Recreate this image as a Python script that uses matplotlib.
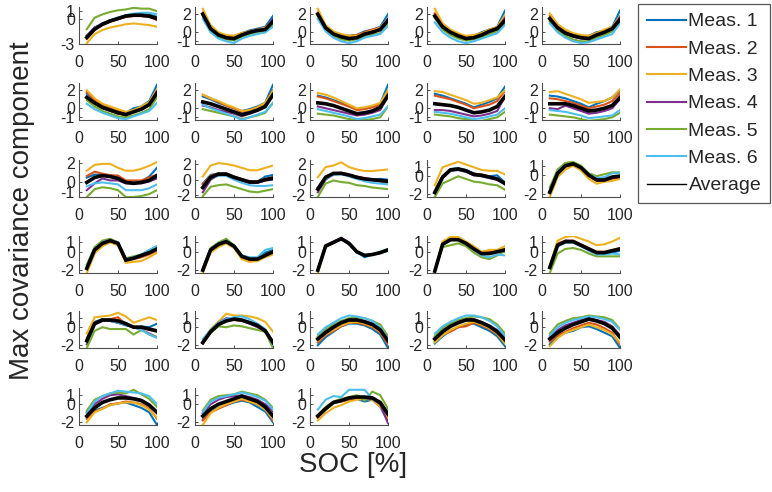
import matplotlib
matplotlib.use("Agg")
import matplotlib.pyplot as plt
from matplotlib.lines import Line2D

plt.rcParams["font.family"] = ["Liberation Sans", "DejaVu Sans"]
plt.rcParams["axes.unicode_minus"] = False

SOC = [10, 20, 30, 40, 50, 60, 70, 80, 90, 100]
SERIES = ["Meas. 1", "Meas. 2", "Meas. 3", "Meas. 4", "Meas. 5", "Meas. 6", "Average"]
COLORS = ["#0072BD", "#D95319", "#EDB120", "#7E2F8E", "#77AC30", "#4DBEEE", "#000000"]

# each panel: Meas.1 .. Meas.6, Average
P01 = [[-2.0, -1.0, -0.5, -0.1, 0.2, 0.5, 0.6, 0.6, 0.6, 0.3],
       [-2.4, -1.3, -0.7, -0.3, 0.0, 0.3, 0.4, 0.4, 0.3, -0.1],
       [-2.9, -1.8, -1.3, -1.0, -0.8, -0.6, -0.5, -0.6, -0.7, -0.9],
       [-2.0, -1.0, -0.6, -0.2, 0.1, 0.4, 0.5, 0.4, 0.3, 0.0],
       [-1.2, 0.2, 0.6, 0.9, 1.1, 1.2, 1.4, 1.3, 1.3, 1.0],
       [-2.1, -1.1, -0.6, -0.2, 0.2, 0.5, 0.7, 0.8, 0.8, 0.6],
       [-2.2, -1.2, -0.6, -0.2, 0.1, 0.4, 0.5, 0.5, 0.4, 0.1]]
P02 = [[2.0, 0.4, -0.2, -0.5, -0.5, -0.1, 0.2, 0.4, 0.6, 1.8],
       [2.2, 0.6, -0.1, -0.4, -0.4, -0.1, 0.1, 0.3, 0.5, 1.2],
       [2.6, 0.8, 0.0, -0.3, -0.4, -0.1, 0.1, 0.3, 0.5, 1.4],
       [1.9, 0.4, -0.3, -0.6, -0.7, -0.3, 0.0, 0.2, 0.3, 1.5],
       [1.8, 0.2, -0.5, -0.8, -0.9, -0.5, -0.2, 0.0, 0.0, 0.9],
       [1.5, 0.0, -0.7, -1.0, -1.2, -0.7, -0.4, -0.2, 0.0, 0.6],
       [2.0, 0.4, -0.3, -0.6, -0.7, -0.3, 0.0, 0.2, 0.3, 1.2]]
P03 = [[2.1, 0.6, -0.1, -0.3, -0.4, -0.3, 0.1, 0.3, 0.6, 2.0],
       [2.2, 0.6, 0.0, -0.3, -0.4, -0.3, 0.0, 0.3, 0.5, 1.4],
       [2.6, 0.8, 0.1, -0.2, -0.4, -0.4, -0.1, 0.2, 0.5, 1.5],
       [1.9, 0.4, -0.3, -0.6, -0.7, -0.6, -0.3, 0.1, 0.3, 1.5],
       [1.8, 0.3, -0.4, -0.8, -0.9, -0.8, -0.5, -0.3, -0.1, 0.8],
       [1.5, 0.1, -0.6, -1.0, -1.2, -1.0, -0.6, -0.4, -0.2, 0.7],
       [2.0, 0.5, -0.2, -0.5, -0.7, -0.6, -0.2, 0.0, 0.3, 1.3]]
P04 = [[1.9, 0.7, 0.1, -0.3, -0.5, -0.4, 0.0, 0.3, 0.6, 2.4],
       [2.1, 0.8, 0.1, -0.3, -0.5, -0.4, -0.1, 0.3, 0.5, 1.6],
       [2.6, 1.0, 0.3, -0.1, -0.4, -0.3, -0.1, 0.3, 0.6, 1.9],
       [1.8, 0.6, -0.1, -0.5, -0.7, -0.6, -0.3, 0.1, 0.4, 1.6],
       [1.6, 0.3, -0.3, -0.7, -0.9, -0.8, -0.5, -0.2, 0.1, 0.9],
       [1.1, 0.0, -0.6, -1.0, -1.2, -1.0, -0.7, -0.4, -0.1, 0.8],
       [1.8, 0.6, 0.0, -0.4, -0.7, -0.6, -0.3, 0.1, 0.4, 1.3]]
P05 = [[1.6, 0.6, 0.1, -0.3, -0.5, -0.4, 0.0, 0.2, 0.6, 2.4],
       [1.8, 0.7, 0.1, -0.2, -0.4, -0.4, -0.1, 0.2, 0.5, 1.7],
       [2.1, 0.9, 0.3, -0.1, -0.3, -0.4, -0.1, 0.3, 0.6, 1.8],
       [1.4, 0.5, -0.1, -0.5, -0.7, -0.7, -0.4, 0.0, 0.4, 1.7],
       [1.2, 0.2, -0.4, -0.8, -1.0, -1.0, -0.6, -0.3, 0.1, 1.1],
       [1.0, 0.0, -0.6, -1.0, -1.2, -1.1, -0.8, -0.5, -0.2, 1.0],
       [1.5, 0.5, -0.1, -0.4, -0.6, -0.7, -0.3, 0.0, 0.4, 1.4]]
P06 = [[1.6, 0.8, 0.3, 0.0, -0.4, -0.5, 0.0, 0.2, 0.8, 2.6],
       [1.8, 0.9, 0.4, 0.0, -0.3, -0.5, -0.2, 0.1, 0.6, 2.0],
       [2.0, 1.1, 0.5, 0.2, -0.1, -0.4, -0.2, 0.2, 0.7, 2.1],
       [1.2, 0.5, 0.0, -0.3, -0.6, -0.7, -0.4, -0.1, 0.4, 1.9],
       [0.9, 0.2, -0.3, -0.6, -0.9, -1.0, -0.8, -0.5, -0.1, 1.2],
       [0.5, -0.1, -0.5, -0.8, -1.1, -1.2, -0.9, -0.6, -0.3, 0.6],
       [1.2, 0.6, 0.1, -0.2, -0.5, -0.7, -0.4, -0.1, 0.4, 1.7]]
P07 = [[1.3, 1.0, 0.6, 0.3, 0.0, -0.3, -0.1, 0.2, 0.6, 2.6],
       [1.5, 1.1, 0.7, 0.3, 0.0, -0.4, -0.2, 0.1, 0.5, 2.0],
       [1.5, 1.1, 0.8, 0.4, 0.1, -0.3, -0.2, 0.1, 0.6, 1.9],
       [0.3, 0.1, -0.2, -0.4, -0.6, -0.9, -0.6, -0.3, 0.1, 1.6],
       [-0.1, -0.3, -0.5, -0.7, -0.9, -1.2, -1.0, -0.8, -0.5, 0.6],
       [0.4, 0.0, -0.3, -0.6, -0.9, -1.3, -1.0, -0.7, -0.4, 0.6],
       [0.7, 0.5, 0.2, -0.1, -0.4, -0.7, -0.5, -0.2, 0.2, 1.5]]
P08 = [[1.4, 1.2, 0.9, 0.6, 0.2, -0.1, 0.0, 0.2, 0.5, 2.6],
       [1.3, 1.1, 0.8, 0.5, 0.2, -0.2, -0.1, 0.1, 0.4, 1.8],
       [1.7, 1.5, 1.2, 0.8, 0.4, 0.0, 0.1, 0.3, 0.6, 2.0],
       [0.2, 0.0, -0.2, -0.4, -0.6, -0.8, -0.7, -0.5, -0.2, 1.3],
       [-0.6, -0.7, -0.8, -1.0, -1.2, -1.3, -1.3, -1.2, -1.0, 0.2],
       [-0.1, -0.3, -0.5, -0.7, -0.9, -1.2, -1.1, -0.9, -0.7, 0.2],
       [0.6, 0.5, 0.3, 0.0, -0.3, -0.6, -0.5, -0.3, 0.1, 1.4]]
P09 = [[1.6, 1.4, 1.1, 0.8, 0.5, 0.1, 0.4, 0.7, 1.1, 2.4],
       [1.4, 1.2, 1.0, 0.7, 0.4, 0.0, 0.2, 0.4, 0.8, 1.9],
       [1.9, 1.8, 1.5, 1.2, 0.9, 0.5, 0.6, 0.9, 1.2, 2.0],
       [-0.2, -0.2, -0.3, -0.5, -0.7, -0.9, -0.8, -0.6, -0.3, 1.3],
       [-0.7, -0.8, -0.9, -1.1, -1.2, -1.4, -1.4, -1.2, -1.0, -0.4],
       [-0.4, -0.5, -0.6, -0.8, -1.0, -1.2, -1.1, -0.9, -0.7, 0.0],
       [0.5, 0.4, 0.3, 0.1, -0.2, -0.5, -0.4, -0.2, 0.2, 1.3]]
P10 = [[1.4, 1.3, 1.1, 0.8, 0.5, 0.1, 0.5, 0.8, 1.2, 2.0],
       [1.1, 1.0, 0.8, 0.6, 0.3, 0.0, 0.2, 0.4, 0.8, 1.7],
       [1.8, 1.9, 1.6, 1.3, 1.0, 0.6, 0.7, 0.8, 1.2, 2.1],
       [0.0, -0.1, 0.3, 0.0, -0.3, -0.6, -0.5, -0.3, 0.0, 1.0],
       [-0.7, -0.8, -0.9, -1.0, -1.2, -1.4, -1.3, -1.2, -1.0, -0.5],
       [-0.2, -0.3, -0.4, -0.6, -0.8, -1.1, -1.0, -0.9, -0.8, -0.2],
       [0.5, 0.5, 0.5, 0.3, 0.0, -0.3, -0.2, 0.0, 0.3, 1.2]]
P11 = [[0.5, 0.8, 0.8, 0.6, 0.5, 0.1, 0.0, 0.1, 0.6, 1.5],
       [0.65, 1.1, 0.9, 0.75, 0.7, 0.2, 0.2, 0.2, 0.5, 0.8],
       [1.2, 1.8, 1.9, 1.9, 1.5, 1.2, 1.2, 1.4, 1.7, 2.1],
       [-0.8, -0.1, 0.4, 0.2, 0.2, -0.1, -0.1, -0.1, 0.1, 0.4],
       [-1.5, -0.7, -0.5, -0.6, -0.8, -1.5, -1.5, -1.4, -1.2, -0.8],
       [-0.4, -0.1, 0.0, -0.1, -0.2, -0.8, -0.8, -0.8, -0.6, -0.2],
       [0.0, 0.5, 0.7, 0.6, 0.4, 0.0, -0.1, 0.0, 0.2, 0.7]]
P12 = [[-0.5, 0.6, 0.8, 0.8, 0.4, 0.0, -0.3, -0.3, 0.4, 0.6],
       [-0.6, 0.5, 0.8, 0.8, 0.4, 0.1, -0.2, -0.2, 0.1, 0.3],
       [0.4, 1.8, 2.1, 2.0, 1.8, 1.5, 1.2, 1.2, 1.5, 1.8],
       [-1.6, 0.0, 0.6, 0.6, 0.2, -0.1, -0.4, -0.4, -0.1, 0.0],
       [-2.1, -0.9, -0.7, -0.6, -0.9, -1.2, -1.5, -1.6, -1.4, -1.2],
       [-1.0, 0.2, 0.5, 0.5, 0.0, -0.4, -0.7, -0.8, -0.8, -0.7],
       [-1.0, 0.3, 0.7, 0.7, 0.3, 0.0, -0.3, -0.3, 0.0, 0.2]]
P13 = [[-1.0, 0.2, 0.8, 0.8, 0.6, 0.3, 0.1, 0.0, 0.1, 0.0],
       [-1.0, 0.4, 0.8, 0.9, 0.6, 0.4, 0.2, 0.0, -0.2, -0.4],
       [0.3, 1.6, 1.8, 2.2, 1.6, 1.3, 1.1, 1.1, 1.2, 1.3],
       [-1.6, 0.0, 0.7, 0.8, 0.5, 0.3, 0.1, -0.1, -0.2, -0.3],
       [-2.2, -0.5, -0.1, -0.3, -0.4, -0.7, -0.8, -1.0, -1.1, -1.2],
       [-1.2, 0.1, 0.6, 0.7, 0.4, 0.1, -0.2, -0.4, -0.5, -0.6],
       [-1.2, 0.3, 0.8, 0.8, 0.6, 0.3, 0.1, 0.0, -0.1, -0.2]]
P14 = [[-1.7, 0.0, 0.8, 0.9, 0.7, 0.3, 0.1, 0.0, 0.1, -0.7],
       [-1.6, 0.0, 0.7, 0.7, 0.5, 0.3, 0.2, 0.0, -0.4, -0.8],
       [-1.0, 1.0, 1.3, 1.6, 1.3, 1.0, 0.7, 0.6, 0.6, 0.2],
       [-1.9, -0.2, 0.6, 0.7, 0.5, 0.1, 0.0, -0.2, -0.4, -0.9],
       [-2.3, -0.8, -0.4, 0.0, -0.3, -0.6, -0.7, -0.9, -1.0, -1.5],
       [-1.8, -0.1, 0.6, 0.7, 0.5, 0.2, 0.0, -0.2, -0.3, -0.9],
       [-1.8, -0.1, 0.7, 0.8, 0.6, 0.2, 0.1, -0.1, -0.3, -0.8]]
P15 = [[-1.7, 0.3, 1.1, 1.3, 0.9, 0.1, -0.4, -0.5, -0.2, -0.1],
       [-1.9, 0.1, 0.9, 1.1, 0.7, -0.1, -0.6, -0.6, -0.4, -0.3],
       [-2.3, -0.2, 0.6, 1.0, 0.5, -0.4, -0.9, -0.7, -0.6, -0.4],
       [-1.8, 0.2, 1.0, 1.2, 0.8, 0.0, -0.5, -0.6, -0.3, -0.2],
       [-1.3, 0.6, 1.3, 1.4, 1.0, 0.2, -0.1, 0.1, 0.3, 0.3],
       [-1.6, 0.4, 1.1, 1.2, 0.8, 0.1, -0.3, -0.2, 0.2, 0.2],
       [-1.8, 0.2, 1.0, 1.2, 0.8, 0.0, -0.5, -0.5, -0.2, -0.1]]
P16 = [[-1.7, 0.3, 1.0, 1.3, 1.0, -0.8, -0.6, -0.4, 0.0, 0.4],
       [-1.9, 0.1, 0.8, 1.1, 0.8, -1.0, -0.8, -0.6, -0.3, 0.1],
       [-2.3, -0.2, 0.6, 1.0, 0.7, -1.2, -1.1, -1.0, -0.6, -0.1],
       [-1.8, 0.2, 0.9, 1.2, 0.9, -0.9, -0.7, -0.5, -0.1, 0.3],
       [-1.4, 0.5, 1.2, 1.4, 1.0, -0.7, -0.5, -0.3, 0.1, 0.6],
       [-1.7, 0.3, 1.0, 1.3, 0.9, -0.8, -0.6, -0.3, 0.2, 0.6],
       [-1.8, 0.2, 0.9, 1.2, 0.9, -0.9, -0.7, -0.4, -0.1, 0.3]]
P17 = [[-1.9, 0.3, 0.9, 1.2, 0.6, -0.5, -0.7, -0.7, -0.1, 0.2],
       [-2.0, 0.1, 0.8, 1.0, 0.5, -0.6, -0.9, -0.9, -0.5, -0.1],
       [-2.3, -0.1, 0.5, 0.9, 0.4, -0.8, -1.1, -1.0, -0.6, -0.3],
       [-2.0, 0.2, 0.8, 1.1, 0.6, -0.5, -0.8, -0.8, -0.4, 0.0],
       [-1.8, 0.4, 1.0, 1.4, 0.7, -0.4, -0.7, -0.7, -0.3, 0.1],
       [-1.9, 0.3, 0.9, 1.2, 0.6, -0.4, -0.6, -0.6, 0.2, 0.4],
       [-2.0, 0.2, 0.8, 1.1, 0.6, -0.5, -0.8, -0.8, -0.4, 0.0]]
P18 = [[-2.0, 0.6, 1.0, 1.4, 0.9, 0.0, -0.6, -0.3, -0.1, 0.1],
       [-2.0, 0.6, 1.0, 1.4, 0.9, 0.0, -0.4, -0.3, -0.1, 0.2],
       [-2.3, 0.5, 1.0, 1.4, 0.9, 0.0, -0.4, -0.3, -0.1, 0.2],
       [-2.0, 0.7, 1.1, 1.5, 1.0, 0.0, -0.4, -0.3, -0.1, 0.2],
       [-2.0, 0.6, 1.0, 1.4, 0.9, 0.0, -0.4, -0.3, -0.1, 0.2],
       [-2.0, 0.6, 1.0, 1.4, 0.8, -0.1, -0.5, -0.3, 0.0, 0.3],
       [-2.0, 0.6, 1.0, 1.4, 0.9, 0.0, -0.4, -0.3, -0.1, 0.2]]
P19 = [[-2.1, 0.8, 1.3, 1.3, 0.9, 0.3, -0.2, -0.1, 0.0, 0.0],
       [-2.1, 0.9, 1.4, 1.4, 1.0, 0.4, -0.1, 0.0, 0.1, 0.3],
       [-2.0, 1.1, 1.6, 1.6, 1.1, 0.6, 0.0, 0.2, 0.2, 0.6],
       [-2.1, 0.8, 1.3, 1.3, 0.9, 0.3, -0.2, -0.2, 0.0, 0.2],
       [-2.0, 0.5, 0.7, 0.9, 0.6, -0.1, -0.6, -0.8, -0.4, 0.1],
       [-2.2, 0.8, 1.3, 1.3, 0.8, 0.2, -0.4, -0.6, -0.3, -0.4],
       [-2.1, 0.8, 1.3, 1.3, 0.9, 0.3, -0.2, -0.2, 0.0, 0.2]]
P20 = [[-1.7, 0.6, 1.0, 1.0, 0.6, 0.2, -0.2, -0.2, -0.1, 0.1],
       [-1.6, 0.9, 1.2, 1.2, 0.8, 0.4, 0.0, 0.0, 0.2, 0.4],
       [-1.5, 1.2, 1.6, 1.7, 1.4, 1.1, 0.7, 0.8, 1.1, 1.5],
       [-1.7, 0.6, 1.2, 1.1, 0.7, 0.3, -0.1, -0.1, 0.1, 0.2],
       [-2.3, -0.2, 0.3, 0.4, 0.2, -0.2, -0.5, -0.5, -0.5, -0.5],
       [-1.6, 0.6, 1.0, 1.0, 0.6, 0.1, -0.3, -0.3, -0.2, -0.3],
       [-1.7, 0.7, 1.1, 1.1, 0.7, 0.3, -0.1, -0.1, 0.1, 0.3]]
P21 = [[-1.3, 0.6, 0.9, 0.7, 0.5, 0.2, 0.0, 0.1, 0.0, 0.4],
       [-1.3, 0.5, 0.8, 0.9, 1.1, 0.3, 0.1, 0.0, -0.3, -0.5],
       [-0.7, 1.1, 1.2, 1.3, 1.6, 1.2, 0.5, 0.8, 1.1, 0.8],
       [-1.9, 0.3, 0.7, 0.7, 0.5, 0.3, 0.0, -0.3, -0.7, -1.1],
       [-2.3, -0.4, 0.0, -0.2, -0.2, -0.2, -0.8, -0.3, -0.8, -1.1],
       [-1.6, 0.3, 0.7, 0.7, 0.5, 0.3, 0.0, -0.3, -0.8, -1.2],
       [-1.5, 0.4, 0.8, 0.8, 0.7, 0.4, 0.0, 0.0, -0.2, -0.4]]
P22 = [[-1.6, -0.5, 0.3, 0.7, 1.0, 0.8, 0.6, 0.3, -0.3, -1.8],
       [-1.8, -0.6, 0.2, 0.8, 0.8, 0.7, 0.5, 0.1, -0.4, -1.7],
       [-1.6, -0.2, 0.6, 1.5, 1.3, 1.3, 1.2, 1.0, 0.6, -0.5],
       [-1.8, -0.4, 0.5, 1.0, 0.9, 0.7, 0.4, 0.0, -0.4, -1.6],
       [-1.8, -0.6, 0.1, 0.0, 0.2, 0.1, -0.1, -0.3, -0.5, -2.3],
       [-1.3, -0.3, 0.5, 0.9, 1.1, 1.2, 0.9, 0.4, -0.2, -1.9],
       [-1.7, -0.5, 0.3, 0.7, 0.9, 0.8, 0.5, 0.2, -0.4, -1.7]]
P23 = [[-2.0, -1.1, -0.5, 0.1, 0.4, 0.4, 0.2, -0.2, -0.8, -2.3],
       [-1.7, -0.9, -0.4, 0.1, 0.5, 0.5, 0.3, 0.0, -0.6, -1.9],
       [-1.5, -0.8, -0.3, 0.2, 0.5, 0.6, 0.4, 0.1, -0.5, -1.6],
       [-1.2, -0.4, 0.2, 0.6, 0.9, 0.9, 0.7, 0.4, -0.2, -1.4],
       [-1.0, -0.2, 0.3, 0.7, 1.0, 1.1, 1.0, 0.7, 0.3, -1.0],
       [-0.8, 0.0, 0.5, 1.0, 1.3, 1.2, 1.0, 0.7, 0.0, -1.3],
       [-1.3, -0.6, 0.0, 0.5, 0.8, 0.8, 0.6, 0.3, -0.3, -1.5]]
P24 = [[-1.8, -1.0, -0.4, 0.0, 0.3, 0.4, 0.0, -0.4, -1.0, -2.1],
       [-1.6, -0.8, -0.5, 0.0, 0.1, 0.5, 0.2, -0.2, -0.8, -1.8],
       [-1.7, -0.9, -0.3, 0.1, 0.4, 0.6, 0.3, -0.1, -0.7, -1.8],
       [-1.1, -0.3, 0.3, 0.7, 0.9, 0.9, 0.6, 0.2, -0.3, -1.3],
       [-1.0, -0.1, 0.4, 0.8, 1.0, 1.2, 1.1, 0.9, 0.3, -0.7],
       [-0.7, 0.1, 0.6, 1.0, 1.3, 1.3, 1.1, 0.7, 0.1, -1.0],
       [-1.3, -0.5, 0.1, 0.5, 0.8, 0.8, 0.5, 0.1, -0.5, -1.4]]
P25 = [[-1.9, -1.0, -0.6, -0.4, 0.0, 0.1, -0.2, -0.6, -1.0, -2.3],
       [-1.6, -0.9, -0.5, -0.1, 0.2, 0.5, 0.3, -0.1, -0.6, -1.9],
       [-2.1, -1.2, -0.6, -0.3, 0.0, 0.3, 0.0, -0.3, -0.8, -1.7],
       [-1.1, -0.3, 0.2, 0.5, 0.8, 1.0, 0.8, 0.6, 0.1, -0.9],
       [-0.7, 0.3, 0.7, 1.0, 1.1, 1.3, 1.2, 1.1, 0.8, -0.2],
       [-0.9, 0.0, 0.5, 0.8, 1.0, 1.2, 1.1, 0.9, 0.6, -0.3],
       [-1.3, -0.6, -0.1, 0.3, 0.6, 0.9, 0.7, 0.4, -0.1, -1.1]]
P26 = [[-1.5, -0.7, -0.4, -0.1, 0.1, 0.2, -0.1, -0.4, -0.9, -2.3],
       [-1.6, -0.8, -0.5, 0.0, 0.1, 0.3, 0.2, 0.0, -0.5, -1.6],
       [-2.0, -0.9, -0.5, -0.1, 0.1, 0.2, 0.2, -0.1, -0.6, -1.5],
       [-0.9, 0.0, 0.6, 1.0, 1.1, 0.9, 0.7, 0.5, 0.0, -0.8],
       [-0.7, 0.5, 0.9, 1.2, 1.3, 1.2, 1.6, 1.1, 0.6, -0.3],
       [-1.0, 0.3, 0.9, 1.2, 1.5, 1.4, 1.3, 1.2, 0.9, 0.0],
       [-1.3, -0.4, 0.2, 0.5, 0.7, 0.7, 0.6, 0.4, -0.1, -0.9]]
P27 = [[-1.7, -0.8, -0.4, -0.1, 0.2, 0.4, 0.2, -0.3, -0.8, -2.0],
       [-1.8, -0.9, -0.5, -0.1, 0.3, 0.5, 0.3, 0.0, -0.5, -1.8],
       [-2.3, -1.0, -0.4, 0.0, 0.3, 0.6, 0.3, 0.0, -0.6, -1.6],
       [-1.0, 0.0, 0.5, 0.8, 0.9, 1.0, 0.8, 0.5, 0.0, -0.8],
       [-0.7, 0.5, 0.9, 1.0, 1.1, 1.4, 1.2, 1.0, 0.5, -0.4],
       [-0.9, 0.3, 0.7, 0.9, 1.1, 1.3, 1.1, 0.8, 0.4, -0.6],
       [-1.3, -0.5, 0.0, 0.3, 0.6, 0.9, 0.6, 0.3, -0.3, -1.3]]
P28 = [[-1.4, -0.6, 0.2, 0.4, 0.5, 0.6, 0.3, 0.5, -0.3, -1.9],
       [-1.5, -0.6, 0.1, 0.3, 0.5, 0.6, 0.7, 0.5, -0.1, -1.6],
       [-1.8, -1.0, -0.4, -0.1, 0.3, 0.5, 0.6, 0.5, -0.3, -1.5],
       [-1.3, -0.5, 0.2, 0.5, 0.7, 0.8, 0.6, 0.6, 0.0, -2.1],
       [-1.2, -0.3, 0.3, 0.6, 0.8, 1.0, 0.4, 1.4, 1.0, -0.5],
       [-0.6, 0.5, 0.9, 0.8, 1.6, 1.6, 1.6, 0.6, 0.2, -0.9],
       [-1.3, -0.5, 0.2, 0.4, 0.7, 0.8, 0.8, 0.7, 0.2, -1.1]]

PANELS = [P01, P02, P03, P04, P05, P06, P07, P08, P09, P10,
          P11, P12, P13, P14, P15, P16, P17, P18, P19, P20,
          P21, P22, P23, P24, P25, P26, P27, P28]

YLIM = ([(-3.0, 1.5)] + [(-1.3, 2.8)] * 9 +
        [(-1.5, 2.3), (-2.2, 2.5), (-2.2, 2.5), (-2.3, 1.8), (-2.3, 1.6)] +
        [(-2.3, 1.7)] * 5 + [(-2.3, 1.8)] * 8)
YTICK = ([[-3, 0, 1]] + [[-1, 0, 2]] * 10 + [[-2, 0, 2]] * 2 + [[-2, 0, 1]] * 15)

W_PX, H_PX = 772, 492
COL_X = [79, 195, 310, 427, 542]
ROW_Y = [44, 120, 197, 273, 348, 425]
AX_W, AX_H = 78, 37
AX_C = "#4d4d4d"
TXT_C = "#262626"

fig = plt.figure(figsize=(W_PX / 100, H_PX / 100), dpi=100)

for i, panel in enumerate(PANELS):
    r, c = divmod(i, 5)
    ax = fig.add_axes([COL_X[c] / W_PX, 1 - ROW_Y[r] / H_PX, AX_W / W_PX, AX_H / H_PX])
    for k, ys in enumerate(panel):
        ax.plot(SOC, ys, color=COLORS[k], lw=2.6 if k == 6 else 1.5,
                solid_joinstyle="miter", zorder=3 + k)
    ax.set_xlim(0, 100)
    ax.set_ylim(*YLIM[i])
    ax.set_xticks([0, 50, 100])
    ax.set_yticks(YTICK[i])
    for s in ["top", "right"]:
        ax.spines[s].set_visible(False)
    for s in ["left", "bottom"]:
        ax.spines[s].set_color(AX_C)
        ax.spines[s].set_linewidth(0.8)
    ax.tick_params(axis="both", direction="in", length=2.5, width=0.7, color=AX_C,
                   labelsize=11.5, labelcolor=TXT_C)
    ax.tick_params(axis="x", pad=8)
    ax.tick_params(axis="y", pad=3)
    ax.patch.set_visible(False)

handles = [Line2D([], [], color=COLORS[k], lw=1.0 if k == 6 else 1.5) for k in range(7)]
leg = fig.legend(handles, SERIES, loc="upper right",
                 bbox_to_anchor=(770 / W_PX, 1 - 4 / H_PX), fontsize=14,
                 frameon=True, fancybox=False, edgecolor="#555555", framealpha=1,
                 handlelength=2.0, handletextpad=0.15, labelspacing=0.5,
                 borderpad=0.45, borderaxespad=0)
leg.get_frame().set_linewidth(0.9)
for t in leg.get_texts():
    t.set_color(TXT_C)

fig.text(22 / W_PX, 1 - 211 / H_PX, "Max covariance component", rotation=90,
         ha="center", va="center", fontsize=20, color=TXT_C)
fig.text(353 / W_PX, 1 - 465 / H_PX, "SOC [%]", ha="center", va="center",
         fontsize=20, color=TXT_C)

fig.savefig("out.png", dpi=100)
